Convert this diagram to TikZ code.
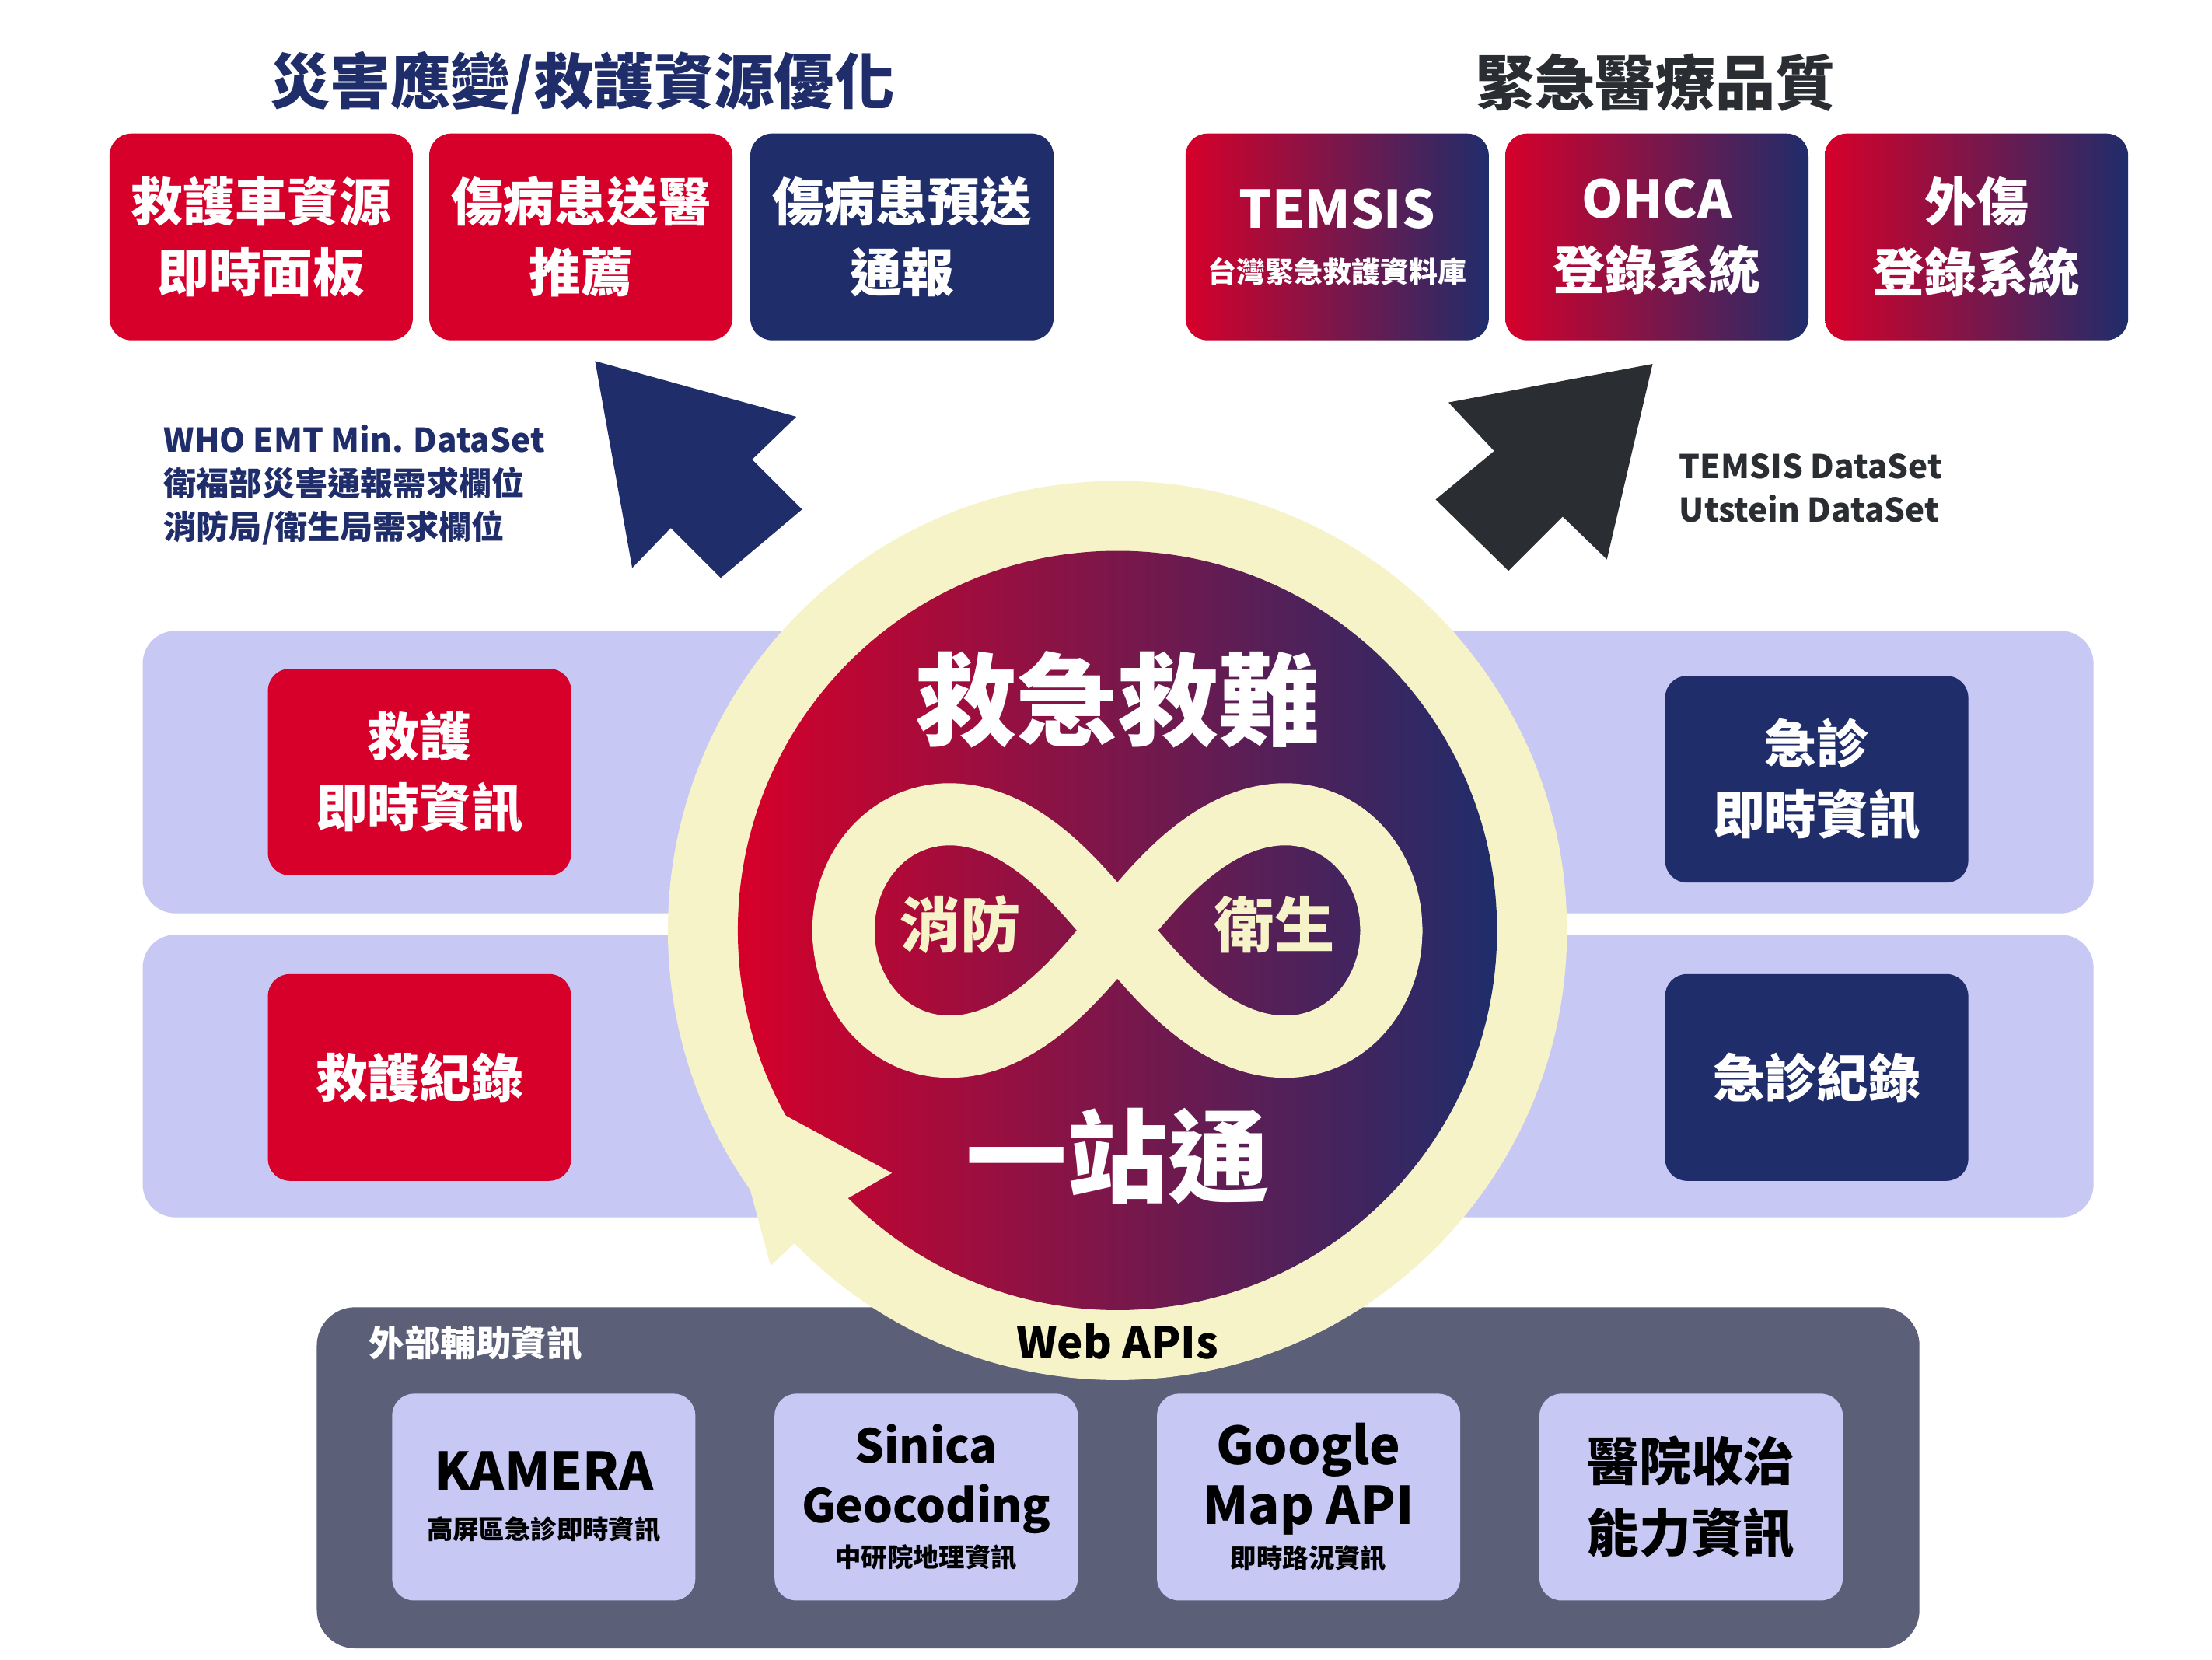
\documentclass[tikz,border=0pt]{standalone}
\usepackage{fontspec}
\setmainfont{Noto Sans CJK TC}
\usetikzlibrary{calc}
\definecolor{ered}{HTML}{D6002A}
\definecolor{enavy}{HTML}{1F2D6B}
\definecolor{elav}{HTML}{C8C8F5}
\definecolor{ecream}{HTML}{F6F3C9}
\definecolor{egray}{HTML}{5C5F78}
\definecolor{edark}{HTML}{2A2E33}
\tikzset{
  box/.style={rounded corners=8pt,minimum width=3.9cm,minimum height=2.66cm,align=center,
    text=white,font=\bfseries\fontsize{19}{26}\selectfont,inner sep=0pt},
  redbox/.style={box,fill=ered},
  navybox/.style={box,fill=enavy},
  gradbox/.style={box,left color=ered,right color=enavy},
  lavbox/.style={box,fill=elav,text=black},
  band/.style={rounded corners=12pt,fill=elav},
  title/.style={font=\bfseries\fontsize{22}{26}\selectfont},
  note/.style={font=\bfseries\fontsize{12}{16}\selectfont,align=left,anchor=west},
}
\begin{document}
\begin{tikzpicture}[x=0.018355cm,y=-0.018355cm,line join=round]
\useasboundingbox[fill=white] (0,0) rectangle (1550,1163);
% titles
\node[title,text=enavy] (tl) at (408,58) {災害應變/救護資源優化};
\node[title,text=edark] (tr) at (1160,58) {緊急醫療品質};
% top boxes
\node[redbox] (amb) at (183,166) {救護車資源\\即時面板};
\node[redbox] (rec) at (407,166) {傷病患送醫\\推薦};
\node[navybox] (pre) at (632,166) {傷病患預送\\通報};
\node[gradbox] (tem) at (937,166) {\fontsize{19}{22}\selectfont TEMSIS\\[-6pt]\fontsize{10.5}{13}\selectfont 台灣緊急救護資料庫};
\node[gradbox] (ohca) at (1161,166) {OHCA\\登錄系統};
\node[gradbox] (trau) at (1385,166) {外傷\\登錄系統};
% big arrows
\fill[enavy] (417,253) -- (558,292) -- (527,322) -- (562,357) -- (505,405) -- (470,370) -- (443,398) -- cycle;
\fill[edark] (1158,255) -- (1015,282) -- (1047,316) -- (1006,350) -- (1057,400) -- (1095,362) -- (1126,392) -- cycle;
\node[note,text=enavy] (dl) at (108,340) {WHO EMT Min. DataSet\\衛福部災害通報需求欄位\\消防局/衛生局需求欄位};
\node[note,text=edark] (dr) at (1170,342) {TEMSIS DataSet\\Utstein DataSet};
% bands
\fill[band] (100,442) rectangle (1467,640);
\fill[band] (100,655) rectangle (1467,853);
\node[redbox] (ri) at (294,541) {救護\\即時資訊};
\node[redbox] (rr) at (294,755) {救護紀錄};
\node[navybox] (ei) at (1273,546) {急診\\即時資訊};
\node[navybox] (er) at (1273,755) {急診紀錄};
% bottom panel
\fill[egray,rounded corners=14pt] (222,916) rectangle (1345,1155);
\node[anchor=west,text=white,font=\bfseries\fontsize{13}{16}\selectfont] (ext) at (252,941) {外部輔助資訊};
\node[lavbox] (kam) at (381,1049) {\fontsize{19}{22}\selectfont KAMERA\\[-8pt]\fontsize{9.5}{12}\selectfont 高屏區急診即時資訊};
\node[lavbox] (sin) at (649,1049) {\fontsize{17}{21}\selectfont Sinica\\[-4pt]\fontsize{17}{21}\selectfont Geocoding\\[-10pt]\fontsize{9.5}{12}\selectfont 中研院地理資訊};
\node[lavbox] (goo) at (917,1049) {\fontsize{19}{23}\selectfont Google\\[-4pt]\fontsize{19}{23}\selectfont Map API\\[-10pt]\fontsize{9.5}{12}\selectfont 即時路況資訊};
\node[lavbox] (hos) at (1185,1049) {醫院收治\\能力資訊};
% central circle
\fill[ecream] (783,652) circle (315);
\shade[left color=ered,right color=enavy] (783,652) circle (266);
\draw[ecream,line width=0.8cm] plot[domain=0:360,samples=120,smooth cycle]
  ({783+192*cos(\x)/(1+sin(\x)^2)},{652+1.2*192*sin(\x)*cos(\x)/(1+sin(\x)^2)});
\fill[ecream] (505,757) -- (625,822) -- (583,846) -- (540,887) -- cycle;
\node[text=white,font=\bfseries\fontsize{37}{40}\selectfont] (top) at (783,490) {救急救難};
\node[text=white,font=\bfseries\fontsize{37}{40}\selectfont] (bot) at (783,810) {一站通};
\node[text=ecream,font=\bfseries\fontsize{22}{26}\selectfont] (fire) at (673,648) {消防};
\node[text=ecream,font=\bfseries\fontsize{22}{26}\selectfont] (hlth) at (893,648) {衛生};
\node[font=\bfseries\fontsize{16}{20}\selectfont] (api) at (783,940) {Web APIs};
\end{tikzpicture}
\end{document}
